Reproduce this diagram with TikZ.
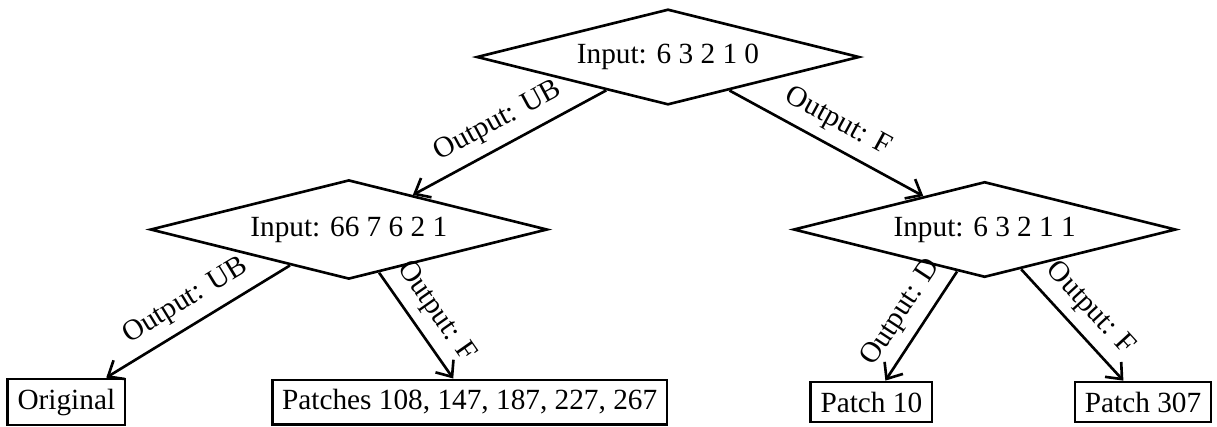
\documentclass[tikz,border=0pt]{standalone}
\usepackage{fontspec}
\setmainfont{Liberation Serif}
\usetikzlibrary{shapes.geometric, positioning, arrows, arrows.meta}
\tikzset{
    >={Straight Barb[length=4.5pt, width=7.5pt]}, % plain open arrowheads
    decision/.style={diamond, draw, aspect=4}, % input tests
    outcome/.style={rectangle, draw}, % leaves
}

\begin{document}
\begin{tikzpicture}[
    on grid,
    line width=0.9pt,
    node distance=2.07cm
]
    \useasboundingbox (0,0) rectangle (14.604,-5.112);

    % --- Tests ---
    \node[decision] (in0) at (8.016,-0.684) {Input: 6 3 2 1 0};
    \node[decision] (in1) [below left=2.07cm and 3.83cm of in0] {Input: 66 7 6 2 1};
    \node[decision] (in2) [below right=2.07cm and 3.80cm of in0] {Input: 6 3 2 1 1};

    % --- Outcomes ---
    \node[outcome] (orig) [below left=2.07cm and 3.39cm of in1] {Original};
    \node[outcome] (pmany) [below right=2.07cm and 1.45cm of in1] {Patches 108, 147, 187, 227, 267};
    \node[outcome] (p10) [below left=2.07cm and 1.36cm of in2] {Patch 10};
    \node[outcome] (p307) [below right=2.07cm and 1.90cm of in2] {Patch 307};

    % --- Edges ---
    \path[->]
        (in0) edge node[above, sloped] {Output: UB} (in1)
              edge node[above, sloped] {Output: F} (in2)
        (in1) edge node[above, sloped] {Output: UB} (orig)
              edge node[above, sloped] {Output: F} (pmany)
        (in2) edge node[above, sloped] {Output: D} (p10)
              edge node[above, sloped] {Output: F} (p307);

\end{tikzpicture}
\end{document}
